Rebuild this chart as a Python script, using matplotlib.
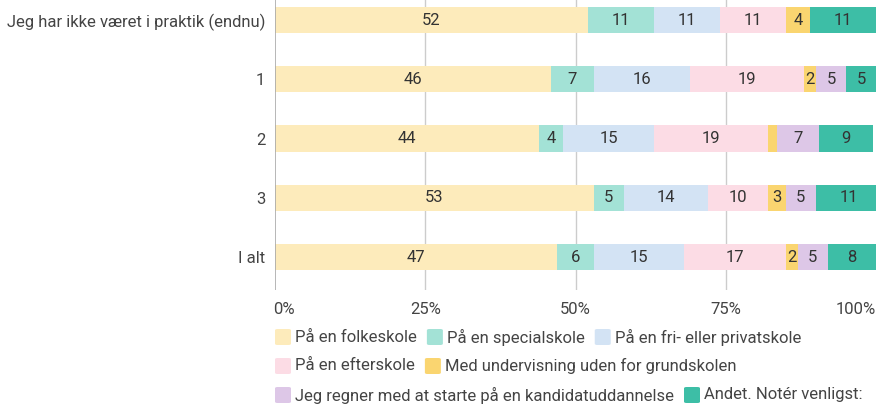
import matplotlib
matplotlib.use("Agg")
import matplotlib.pyplot as plt
from matplotlib.patches import FancyBboxPatch
import numpy as np

plt.rcParams['font.family'] = ['Roboto', 'DejaVu Sans']

categories = ["Jeg har ikke været i praktik (endnu)", "1", "2", "3", "I alt"]
series_names = ["På en folkeskole", "På en specialskole", "På en fri- eller privatskole",
                "På en efterskole", "Med undervisning uden for grundskolen",
                "Jeg regner med at starte på en kandidatuddannelse", "Andet. Notér venligst:"]
folkeskole = [52, 46, 44, 53, 47]
specialskole = [11, 7, 4, 5, 6]
friprivat = [11, 16, 15, 14, 15]
efterskole = [11, 19, 19, 10, 17]
undervisning = [4, 2, 1.5, 3, 2]
kandidat = [0, 5, 7, 5, 5]
andet = [11, 5, 9, 11, 8]
series = [folkeskole, specialskole, friprivat, efterskole, undervisning, kandidat, andet]
colors = ["#FDEBBB", "#A3E2D6", "#D3E3F4", "#FCDCE5", "#FAD570", "#DDC7E7", "#3DBEA6"]
xticks = [0, 25, 50, 75, 100]
xticklabels = ["0%", "25%", "50%", "75%", "100%"]

FS = 12
TXT = '#444444'
W, H = 877, 405
fig = plt.figure(figsize=(W/100, H/100), dpi=100)
ax = fig.add_axes([275/W, 1-290/H, (876-275)/W, 290/H])

y = np.arange(len(categories))
left = np.zeros(len(categories))
for vals, c in zip(series, colors):
    vals = np.array(vals, dtype=float)
    ax.barh(y, vals, left=left, height=0.44, color=c, edgecolor='none', zorder=2)
    for yi, (l, v) in enumerate(zip(left, vals)):
        if v >= 1.8:
            ax.text(l + v/2, yi, f"{v:g}", ha='center', va='center', fontsize=FS,
                    color='#333333', zorder=3)
    left += vals

ax.set_xlim(0, 100)
ax.set_ylim(4.557, -0.338)
for s in ax.spines.values():
    s.set_visible(False)
for xv in [25, 50, 75]:
    ax.axvline(xv, color='#cccccc', lw=1, zorder=1)
ax.axvline(0, color='#aaaaaa', lw=1.2, zorder=4)
ax.set_xticks([])
ax.set_yticks(y)
ax.set_yticklabels(categories, fontsize=FS, color=TXT)
ax.tick_params(axis='y', length=0, pad=7)

# x tick labels
for xv, lab in zip(xticks, xticklabels):
    ha = 'left' if xv == 0 else ('right' if xv == 100 else 'center')
    xpx = 275 + xv/100*(876-275)
    if xv == 0:
        xpx -= 2
    fig.text(xpx/W, 1-310/H, lab, ha=ha, va='center', fontsize=FS, color=TXT)

# legend
fig.canvas.draw()
renderer = fig.canvas.get_renderer()
rows = [[0, 1, 2], [3, 4], [5, 6]]
row_y = [337, 366, 395]
for r, ypx in zip(rows, row_y):
    x = 275
    for idx in r:
        sq = 16
        fig.patches.append(FancyBboxPatch((x/W, 1-(ypx+sq/2)/H), sq/W, sq/H,
                                          boxstyle="round,pad=0,rounding_size=0.003",
                                          transform=fig.transFigure, facecolor=colors[idx],
                                          edgecolor='none'))
        t = fig.text((x+sq+4)/W, 1-ypx/H, series_names[idx], ha='left', va='center',
                     fontsize=FS, color=TXT)
        bb = t.get_window_extent(renderer)
        x = bb.x1 + 10

fig.savefig("out.png", dpi=100)
